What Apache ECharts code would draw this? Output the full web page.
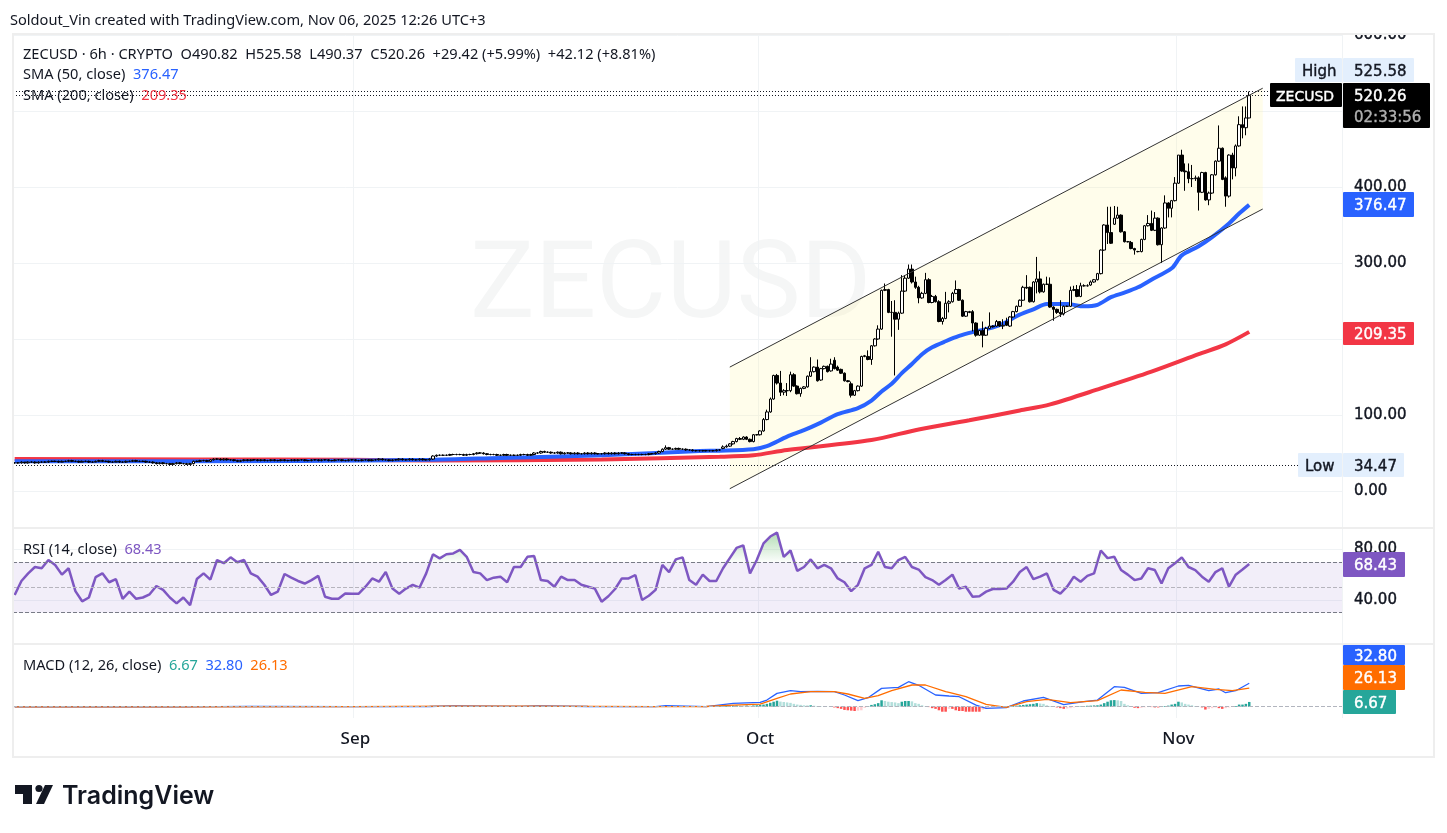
<!DOCTYPE html>
<html>
<head>
<meta charset="utf-8">
<title>ZECUSD</title>
<script src="https://cdn.jsdelivr.net/npm/echarts@6/dist/echarts.min.js"></script>
<style>
html, body { margin: 0; padding: 0; background: #fff; }
#chart { width: 1447px; height: 833px; }
</style>
</head>
<body>
<div id="chart"></div>
<script>
// 6h bars, one row = 10 bars, bar 0 is Aug 6 18:00
var opens = [
37,37,37,38,37,38,38,37,38,38,
38,39,39,39,38,39,39,40,39,39,
38,39,39,38,38,39,40,39,39,38,
38,39,38,38,39,39,40,39,39,39,
38,38,37,36,37,36,36,35,36,37,
36,36,35,36,39,39,40,40,39,41,
42,42,41,42,41,41,40,39,40,41,
40,41,41,40,41,40,40,41,40,40,
41,40,40,41,40,41,41,40,40,41,
41,40,41,41,40,40,41,41,40,40,
41,41,40,40,41,41,40,41,41,42,
41,41,40,41,41,42,41,41,42,41,
41,42,41,41,42,46,47,47,47,47,
48,48,48,48,47,48,48,49,50,50,
49,48,48,48,47,47,48,47,47,47,
47,48,48,47,48,50,50,52,51,51,
50,50,51,49,50,50,49,50,49,49,
50,49,50,49,49,49,50,49,50,49,
50,50,49,48,48,48,48,48,48,49,
49,50,52,55,57,55,55,56,55,55,
54,54,53,53,53,53,53,53,53,54,
56,58,59,62,65,69,68,71,68,65,
74,74,79,94,104,121,152,142,130,132,
132,153,138,128,135,137,151,157,163,146,
161,164,158,172,163,160,155,145,141,126,
132,138,177,177,173,191,200,213,264,265,
235,235,226,234,263,280,292,275,268,254,
260,278,248,256,249,223,227,247,249,260,
265,251,230,236,236,221,205,211,205,214,
217,217,223,217,223,217,229,236,243,251,
268,268,249,275,279,262,272,272,242,239,
235,233,243,243,264,265,256,270,270,271,
275,278,286,317,350,340,351,359,363,341,
328,327,319,315,315,331,349,352,343,359,
324,346,379,372,382,405,442,421,420,411,
411,412,393,419,383,392,416,434,451,412,
388,442,425,454,482,478,490.82
];
var highs = [
38,38,39,38,39,39,39,39,39,39,
40,40,40,40,40,40,41,41,40,40,
40,40,40,39,40,41,41,40,40,39,
40,40,39,40,40,41,41,40,40,40,
39,39,38,38,38,37,37,37,38,38,
37,37,37,40,40,41,41,41,42,43,
43,43,43,43,42,42,41,41,42,42,
42,42,42,42,42,41,42,42,41,42,
42,41,42,42,42,42,42,41,42,42,
42,42,42,42,41,42,42,42,41,42,
42,42,41,42,42,42,42,42,43,43,
42,42,42,42,43,43,42,43,43,42,
43,43,42,43,47,48,48,48,48,49,
49,49,49,49,49,49,50,51,51,51,
50,49,49,49,48,49,49,48,48,48,
49,49,49,49,51,51,53,53,52,52,
51,52,52,51,51,51,51,51,50,51,
51,51,51,50,50,51,51,51,51,51,
51,51,50,49,49,49,49,49,50,50,
51,53,56,60,58,56,57,57,56,56,
55,55,54,54,54,54,54,54,55,55,
60,61,63,66,70,71,72,72,69,75,
75,80,96,107,123,153,154,158,134,142,
157,155,139,136,138,152,176,164,173,162,
165,165,174,176,165,161,156,146,144,133,
139,178,179,185,192,201,218,265,273,266,
250,251,236,284,284,298,298,282,270,262,
287,280,258,258,251,229,262,251,262,277,
266,252,237,237,238,222,212,223,216,235,
218,225,219,226,228,230,237,244,252,270,
284,269,276,308,289,273,282,281,243,240,
251,244,244,269,270,271,274,272,272,277,
279,287,318,351,374,374,375,374,364,342,
329,329,320,316,332,350,363,369,367,360,
347,389,380,383,413,442,449,431,431,429,
415,414,420,420,394,417,435,481,452,414,
443,445,456,493,506,506,525.58
];
var lows = [
36,36,36,36,36,37,36,36,37,37,
37,38,38,37,38,38,38,38,38,37,
38,38,37,37,38,38,38,38,37,37,
38,37,37,37,38,38,38,38,38,37,
37,36,35,35,35,35,35,35,35,35,
35,34.47,35,35,38,38,39,38,38,40,
41,40,40,40,40,39,38,38,39,39,
39,40,39,39,39,39,39,39,39,39,
39,39,39,39,39,40,39,39,39,40,
39,39,40,39,39,39,40,39,39,39,
40,39,39,39,40,39,39,40,40,40,
40,39,39,40,40,40,40,40,40,40,
40,40,40,40,41,45,46,46,46,46,
47,47,47,46,46,47,47,48,49,48,
47,47,47,46,46,46,46,46,46,46,
46,47,46,46,47,49,49,50,50,49,
49,49,48,48,49,48,48,48,48,48,
48,48,48,48,48,48,48,48,48,48,
49,48,47,47,47,47,47,47,47,48,
48,49,51,54,54,54,54,54,54,53,
53,52,52,52,52,52,52,52,52,53,
55,57,58,61,64,67,67,67,64,64,
73,73,78,93,103,120,140,125,126,125,
130,137,127,124,134,136,150,156,144,145,
160,156,157,160,158,154,144,143,123,125,
131,137,176,172,166,190,199,212,263,234,
203,152,212,233,262,279,273,266,247,253,
259,247,247,248,222,219,226,235,248,259,
250,229,229,234,210,203,204,189,204,213,
215,216,216,213,217,216,228,235,242,250,
266,248,248,260,260,261,271,241,224,233,
229,231,242,242,263,255,255,269,269,270,
274,277,285,316,325,325,350,358,340,327,
327,318,311,314,314,330,348,342,342,323,
300,345,360,360,381,404,420,395,405,400,
408,369,392,382,376,391,415,433,409,374,
386,410,414,453,464,468,490.37
];
var closes = [
37,37,38,37,38,38,37,38,38,38,
39,39,39,38,39,39,40,39,39,38,
39,39,38,38,39,40,39,39,38,38,
39,38,38,39,39,40,39,39,39,38,
38,37,36,37,36,36,35,36,37,36,
36,35,36,39,39,40,40,39,41,42,
42,41,42,41,41,40,39,40,41,40,
41,41,40,41,40,40,41,40,40,41,
40,40,41,40,41,41,40,40,41,41,
40,41,41,40,40,41,41,40,40,41,
41,40,40,41,41,40,41,41,42,41,
41,40,41,41,42,41,41,42,41,41,
42,41,41,42,46,47,47,47,47,48,
48,48,48,47,48,48,49,50,50,49,
48,48,48,47,47,48,47,47,47,47,
48,48,47,48,50,50,52,51,51,50,
50,51,49,50,50,49,50,49,49,50,
49,50,49,49,49,50,49,50,49,50,
50,49,48,48,48,48,48,48,49,49,
50,52,55,57,55,55,56,55,55,54,
54,53,53,53,53,53,53,53,54,54,
58,59,62,65,69,68,71,68,65,74,
74,79,94,104,121,152,142,130,132,132,
153,138,128,135,137,151,157,163,145,161,
164,157,167,161,159,155,145,144,126,132,
138,177,178,173,191,200,213,264,265,235,
235,226,234,263,280,292,275,268,254,260,
278,248,256,249,223,227,247,249,260,265,
251,230,236,235,221,205,211,205,214,217,
216,223,217,218,218,229,236,243,251,268,
267,249,275,279,262,272,272,242,239,235,
233,243,243,264,265,256,270,270,270,275,
278,286,317,350,340,326,359,363,341,328,
328,319,317,315,331,349,352,343,359,324,
346,379,372,382,405,442,421,420,411,411,
412,393,419,383,392,416,434,451,410,388,
442,425,454,482,478,490.82,520.26
];

// moving averages as [bar, price]
var sma50Points = [[0,39],[85,39.5],[123,41],[144,43.5],[174,47],[203,52.6],[209,53],[219,55],[223,59],[229,71.5],[234,80],[239,90],[244,101],[250,109],[254,119],[257,131],[260,141],[263,155],[266,167],[269,180],[272,189],[276,197],[280,204],[284,209],[288,213],[293,220],[297,230],[302,239],[306,246],[312,246],[317,243],[321,245],[325,255],[329,261],[333,268],[337,278],[343,293],[346,310],[351,322],[355,334],[360,352],[363,365],[366,376.47]];
var sma200Points = [[0,42],[55,41.5],[100,41],[123,40],[174,41.5],[209,45],[219,47],[229,54],[254,67],[268,81],[283,93],[298,106],[307,114],[322,135],[337,157],[351,180],[359,193],[366,209.35]];

// drawn channel
var channelBars = [212, 370];
var channelUpper = [163, 530];
var channelLower = [3, 371];
var priceLevels = [525.58, 520.26, 34.47];

// RSI, one value every second bar
var rsiValues = [
44,55,61,66,65,71.5,67.6,60,65,47,
39,42,58,61,54,56.5,41,46.6,41,42,
44.5,51,48,42,37.4,42,36,56.5,61,56,
71.5,69,73.6,69.7,71.5,61,58.4,52,44,46.6,
60.5,57.6,55,53,55.7,59,42.6,41,41,45.2,
45,45,50.5,57,54.4,62,49,45,49,52,
49.7,61,76,72.8,76,76.7,79.4,74,62,61,
55.7,57.6,58.4,54,66,66,74,74.6,55.7,55,
50.5,58.4,55.7,55.7,52,50.5,49,38.7,43,48.7,
57,57,59.7,40,43.4,48,67.6,62,72,73.6,
55.7,52,60,55,55,65,73,81,83,61,
71.5,84.6,90,93,74,79,63,66,72,65,
67.6,65,57,54,47,52,65,67.6,78,66,
65,71.5,74,66,64,58,55.7,52,55.7,60,
49,50.5,42.6,43,46.6,48.7,48.7,49,54.4,62,
66,56.5,58.4,61,48,45,50.5,58.4,54.4,59,
61,79,73,74,63.6,60,55.7,57,65,63.6,
53,65,69,73.6,66,63.6,58.4,54.4,62,65,
50.5,60,64,68.43
];

// MACD and signal as [bar, value]
var macdPoints = [[0,-0.3],[30,0.2],[50,-0.3],[70,0.4],[100,0],[123,0.3],[130,1.2],[150,0.4],[155,1.2],[170,0.3],[190,0.2],[193,1.6],[205,0.2],[213,4.7],[221,6],[223,9.3],[226,18.7],[230,22.4],[233,21],[238,21.5],[243,21],[246,16.4],[250,8.4],[253,12.6],[257,25.7],[262,27],[265,35],[268,30],[273,16.4],[277,15],[280,14],[285,2.3],[288,-2.3],[294,-1.4],[299,8],[305,13],[311,3],[317,7],[321,9.3],[326,28],[329,27],[334,18.7],[339,19.6],[345,29],[348,30],[354,22.4],[357,24.8],[359,19.6],[362,22.4],[366,32.8]];
var signalPoints = [[0,-0.2],[50,-0.1],[100,0],[130,0.7],[155,0.8],[190,0.2],[205,0.3],[213,2.3],[221,3.7],[226,11.7],[230,17.8],[236,21],[243,21],[247,17.8],[252,11.7],[256,15.4],[260,22.4],[266,30.4],[270,30.4],[276,21],[277,20],[282,14],[288,3.3],[294,-1],[300,7],[306,10.3],[313,5.6],[321,8.4],[328,23.4],[335,20],[341,18.7],[349,28],[356,24.3],[361,22.4],[366,26.13]];
var histValues = [
0.1,-0.1,-0.2,0.1,0.2,0.1,-0.1,-0.2,-0.1,0.1,
0.2,0.1,0.1,-0.1,-0.2,-0.1,0.1,0.2,0.1,-0.1,
-0.1,0.1,0.1,-0.2,-0.1,0.2,0.1,-0.1,-0.2,-0.1,
0.1,0.1,-0.1,0.1,0.2,0.1,-0.1,0.1,-0.2,-0.2,
-0.3,-0.4,-0.3,-0.2,-0.2,-0.3,-0.2,-0.1,0.1,-0.1,
-0.1,-0.2,0.1,0.5,0.4,0.4,0.3,0.1,0.4,0.4,
0.2,0.1,0.1,-0.1,-0.1,-0.2,-0.3,-0.1,0.1,-0.1,
0.1,0.1,-0.1,0.1,-0.1,-0.1,0.1,-0.1,-0.1,0.1,
-0.1,-0.1,0.1,-0.1,0.1,0.1,-0.1,-0.1,0.1,0.1,
-0.1,0.1,0.1,-0.1,-0.1,0.1,0.1,-0.1,-0.1,0.1,
0.1,-0.1,-0.1,0.1,0.1,-0.1,0.1,0.1,0.2,0.1,
-0.1,-0.1,0.1,0.1,0.2,-0.1,-0.1,0.1,-0.1,-0.1,
0.1,-0.1,-0.1,0.1,0.6,0.7,0.6,0.5,0.3,0.3,
0.2,0.1,0.1,-0.1,0.1,0.1,0.2,0.3,0.2,-0.1,
-0.2,-0.2,-0.1,-0.2,-0.2,0.1,-0.1,-0.1,-0.1,-0.1,
0.1,0.1,-0.1,0.1,0.4,0.3,0.4,0.2,0.1,-0.1,
-0.1,0.1,-0.2,-0.1,-0.1,-0.2,0.1,-0.1,-0.1,0.1,
-0.1,0.1,-0.1,-0.1,-0.1,0.1,-0.1,0.1,-0.1,0.1,
0.1,-0.1,-0.2,-0.2,-0.2,-0.1,-0.1,-0.1,0.1,0.1,
0.2,0.4,0.7,0.9,0.5,0.4,0.5,0.3,0.2,-0.1,
-0.1,-0.2,-0.2,-0.1,-0.1,0.3,0.5,0.4,0.6,0.8,
1,1.2,1.5,1.6,1.8,1.6,1.5,1.7,1.5,1.8,
2,2.5,3,4,5.5,7,8.4,7.2,6.6,6,
5.4,4,3,2.6,2,1.8,2,1.4,1,0.6,
0.4,0.2,-0.4,-1,-2,-3,-4.5,-5,-5.5,-6,
-5.5,-5,-1.5,1,2.5,3.5,5,9,8,7,
6.5,6,5,7,8,8,7.5,5,4,2,
0.5,-0.5,-2,-3,-5,-7,-7,-3,-3,-5,
-6,-6,-7,-7,-7,-7,-7,-4,-3,-1.5,
-0.5,-0.3,0,0.3,0.5,0.6,1,1.5,2,2.5,
3,3.5,4,5,4.5,4,2,1,0.5,-1,
-2,-3,-2.5,-2,-1,0.3,0.6,1,1.3,1.5,
1.8,2,3,5,7,9,9.3,9,8,4,
2,0.5,-1.5,-2,-1.5,-0.8,-0.5,-0.5,-1,-1,
-0.5,1,1.5,3,4,7,6,4,3,2,
1,0.3,-1,-4,-3,-2,-1,-2,-3,-2,
-1,0.3,1,3,3,4,6.67
];

var priceTicks = [0, 100, 200, 300, 400, 500, 600];
var rsiTicks = [40, 80];
var monthNames = ['Sep', 'Oct', 'Nov'];
var monthStarts = ['2025-09-01T00:00', '2025-10-01T00:00', '2025-11-01T00:00'];

// time line reaches past the last bar, into the empty right margin
var categories = [];
for (var b = 0; b < 394; b++) {
    categories.push(new Date(Date.UTC(2025, 7, 6, 18) + b * 6 * 3600 * 1000).toISOString().slice(0, 16));
}
var monthTicks = monthStarts.map(function(d) { return categories.indexOf(d); });

var gridColor = '#f0f3f5';
var textColor = '#131722';
var uiFont = '"Noto Sans", sans-serif';
var scaleFont = '"DejaVu Sans", sans-serif';
var legendFont = '14.6px ' + uiFont;

var myChart = echarts.init(document.getElementById('chart'));

function xAxisFor(index, showLabel) {
    return {
        type: 'category',
        gridIndex: index,
        data: categories,
        axisLine: { show: false },
        axisTick: { show: false, customValues: monthTicks, alignWithLabel: true },
        splitLine: { show: true, lineStyle: { color: gridColor, width: 1 } },
        axisLabel: {
            show: showLabel,
            customValues: monthTicks,
            margin: 13,
            fontSize: 17,
            fontWeight: 500,
            fontFamily: uiFont,
            color: textColor,
            formatter: function(value) {
                return monthNames[monthStarts.indexOf(value)];
            }
        }
    };
}

function yAxisFor(index, min, max, ticks, showLabel) {
    return {
        type: 'value',
        gridIndex: index,
        position: 'right',
        min: min,
        max: max,
        axisLine: { show: false },
        axisTick: { show: false, customValues: ticks },
        splitLine: { show: ticks.length > 0, lineStyle: { color: gridColor, width: 1 } },
        axisLabel: {
            show: showLabel,
            customValues: ticks,
            margin: 12,
            padding: [2, 0, 0, 0],
            fontSize: 15,
            fontFamily: scaleFont,
            color: textColor,
            textBorderColor: textColor,
            textBorderWidth: 0.4,
            formatter: function(v) { return v.toFixed(2); }
        }
    };
}

function pointLine(name, points, xIndex, color, width, z, smooth) {
    return {
        name: name,
        type: 'line',
        xAxisIndex: xIndex,
        yAxisIndex: xIndex,
        data: points,
        showSymbol: false,
        smooth: smooth || false,
        z: z,
        lineStyle: { color: color, width: width }
    };
}

function headerText(x, y, text) {
    return {
        type: 'text',
        x: x,
        y: y + 1,
        z: 60,
        style: { text: text, rich: legendRich, font: legendFont, fill: textColor, verticalAlign: 'middle' }
    };
}

function tag(x, y, w, h, fill, label, color, pad, size) {
    return {
        type: 'group',
        z: 100,
        children: [
            { type: 'rect', z: 100, shape: { x: x, y: y, width: w, height: h, r: 1 }, style: { fill: fill } },
            {
                type: 'text', z: 101, x: x + (pad || 11), y: y + h / 2 + 2,
                style: { text: label, font: (size || 15) + 'px ' + scaleFont, fill: color, stroke: color, lineWidth: 0.4, verticalAlign: 'middle' }
            }
        ]
    };
}

var legendRich = {
    blue: { fill: '#2962ff', font: legendFont },
    red: { fill: '#f23645', font: legendFont },
    purple: { fill: '#7e57c2', font: legendFont },
    teal: { fill: '#26a69a', font: legendFont },
    orange: { fill: '#ff6d00', font: legendFont }
};

var option = {
    animation: false,
    backgroundColor: '#fff',
    grid: [
        { left: 13, width: 1329, top: 34, height: 494 },
        { left: 13, width: 1329, top: 528, height: 116 },
        { left: 13, width: 1329, top: 644, height: 74 }
    ],
    xAxis: [xAxisFor(0, false), xAxisFor(1, false), xAxisFor(2, true)],
    yAxis: [
        yAxisFor(0, -48.7, 601.3, priceTicks, true),
        yAxisFor(1, 5.4, 96.7, rsiTicks, true),
        yAxisFor(2, -15.8, 87.8, [], false)
    ],
    graphic: [
        { type: 'text', x: 470, y: 290, z: 0, style: { text: 'ZECUSD', font: '400 108px Roboto, sans-serif', fill: '#f5f6f6', verticalAlign: 'middle' } },
        { type: 'rect', z: 50, shape: { x: 1343, y: 22, width: 90, height: 12 }, style: { fill: '#fff' } },
        { type: 'rect', z: 55, shape: { x: 13, y: 34, width: 1421, height: 723 }, style: { fill: 'none', stroke: '#eeeeee', lineWidth: 2 } },
        { type: 'line', z: 55, shape: { x1: 13, y1: 528, x2: 1434, y2: 528 }, style: { stroke: '#eeeeee', lineWidth: 2 } },
        { type: 'line', z: 55, shape: { x1: 13, y1: 644, x2: 1434, y2: 644 }, style: { stroke: '#eeeeee', lineWidth: 2 } },
        headerText(10, 20, 'Soldout_Vin created with TradingView.com, Nov 06, 2025 12:26 UTC+3'),
        headerText(23, 54, 'ZECUSD \u00b7 6h \u00b7 CRYPTO  O490.82  H525.58  L490.37  C520.26  +29.42 (+5.99%)  +42.12 (+8.81%)'),
        headerText(23, 74, 'SMA (50, close)  {blue|376.47}'),
        headerText(23, 95, 'SMA (200, close)  {red|209.35}'),
        headerText(23, 549, 'RSI (14, close)  {purple|68.43}'),
        headerText(23, 665, 'MACD (12, 26, close)  {teal|6.67}  {blue|32.80}  {orange|26.13}'),
        tag(1295, 58, 47, 24, '#e3effd', 'High', textColor, 7),
        tag(1343, 58, 71, 24, '#e3effd', '525.58', textColor),
        tag(1270, 83, 72, 24, '#000', 'ZECUSD', '#fff', 6, 14),
        tag(1343, 83, 87, 24, '#000', '520.26', '#fff'),
        tag(1343, 104, 87, 24, '#000', '02:33:56', '#b0b0b0'),
        tag(1343, 192, 71, 25, '#2962ff', '376.47', '#fff'),
        tag(1343, 322, 71, 23, '#f23645', '209.35', '#fff'),
        tag(1298, 453, 44, 24, '#e3effd', 'Low', textColor, 7),
        tag(1343, 453, 61, 24, '#e3effd', '34.47', textColor),
        tag(1343, 552, 62, 25, '#7e57c2', '68.43', '#fff'),
        tag(1343, 645, 62, 20, '#2962ff', '32.80', '#fff'),
        tag(1343, 665, 62, 25, '#ff6d00', '26.13', '#fff'),
        tag(1343, 690, 53, 24, '#26a69a', '6.67', '#fff'),
        // TradingView logo
        { type: 'polygon', z: 60, shape: { points: [[15, 785], [32, 785], [32, 804], [23, 804], [23, 794], [15, 794]] }, style: { fill: '#131722' } },
        { type: 'circle', z: 60, shape: { cx: 39, cy: 788.5, r: 3.6 }, style: { fill: '#131722' } },
        { type: 'polygon', z: 60, shape: { points: [[45, 785], [53, 785], [44, 804], [36, 804]] }, style: { fill: '#131722' } },
        { type: 'text', z: 60, x: 62, y: 796, style: { text: 'TradingView', font: '600 25px Inter, sans-serif', fill: '#131722', verticalAlign: 'middle' } }
    ],
    series: [
        {
            name: 'channel',
            type: 'custom',
            xAxisIndex: 0,
            yAxisIndex: 0,
            z: 1,
            data: [0],
            renderItem: function(params, api) {
                return {
                    type: 'polygon',
                    shape: {
                        points: [
                            api.coord([channelBars[0], channelUpper[0]]),
                            api.coord([channelBars[1], channelUpper[1]]),
                            api.coord([channelBars[1], channelLower[1]]),
                            api.coord([channelBars[0], channelLower[0]])
                        ]
                    },
                    style: { fill: 'rgba(255,245,157,0.2)' }
                };
            }
        },
        pointLine('upper', channelBars.map(function(x, i) { return [x, channelUpper[i]]; }), 0, '#333333', 1, 6),
        pointLine('lower', channelBars.map(function(x, i) { return [x, channelLower[i]]; }), 0, '#333333', 1, 6),
        pointLine('SMA 200', sma200Points, 0, '#f23645', 4, 3, 0.3),
        pointLine('SMA 50', sma50Points, 0, '#2962ff', 4, 3, 0.3),
        {
            name: 'ZECUSD',
            type: 'candlestick',
            xAxisIndex: 0,
            yAxisIndex: 0,
            z: 5,
            barWidth: 3,
            data: closes.map(function(c, i) { return [opens[i], c, lows[i], highs[i]]; }),
            itemStyle: { color: '#fff', color0: '#000', borderColor: '#000', borderColor0: '#000', borderWidth: 1 },
            markLine: {
                silent: true,
                symbol: 'none',
                label: { show: false },
                lineStyle: { color: '#131722', type: [1, 2], width: 1 },
                data: priceLevels.map(function(v) { return { yAxis: v }; })
            }
        },
        {
            name: 'overbought',
            type: 'line',
            xAxisIndex: 1,
            yAxisIndex: 1,
            z: 2,
            showSymbol: false,
            lineStyle: { width: 0 },
            data: rsiValues.map(function(v, k) { return [k * 2, Math.max(v, 70)]; }),
            areaStyle: {
                origin: 70,
                color: new echarts.graphic.LinearGradient(0, 0, 0, 1, [
                    { offset: 0, color: 'rgba(76,175,80,0.6)' },
                    { offset: 1, color: 'rgba(76,175,80,0.03)' }
                ])
            }
        },
        {
            name: 'RSI',
            type: 'line',
            xAxisIndex: 1,
            yAxisIndex: 1,
            z: 3,
            showSymbol: false,
            data: rsiValues.map(function(v, k) { return [k * 2, v]; }),
            lineStyle: { color: '#7e57c2', width: 2.5 },
            markArea: {
                silent: true,
                itemStyle: { color: 'rgba(126,87,194,0.1)' },
                data: [[{ yAxis: 30 }, { yAxis: 70 }]]
            },
            markLine: {
                silent: true,
                symbol: 'none',
                label: { show: false },
                lineStyle: { color: '#787b86', type: 'dashed', width: 1 },
                data: [{ yAxis: 70 }, { yAxis: 30 }, { yAxis: 50, lineStyle: { color: '#b6b4bd', type: 'dashed', width: 1 } }]
            }
        },
        {
            name: 'Histogram',
            type: 'bar',
            xAxisIndex: 2,
            yAxisIndex: 2,
            barWidth: 2.5,
            z: 2,
            data: histValues,
            itemStyle: {
                color: function(p) {
                    var prev = p.dataIndex > 0 ? histValues[p.dataIndex - 1] : 0;
                    if (p.value >= 0) return p.value >= prev ? '#26a69a' : '#b2dfdb';
                    return p.value <= prev ? '#ff5252' : '#ffcdd2';
                }
            },
            markLine: {
                silent: true,
                symbol: 'none',
                label: { show: false },
                lineStyle: { color: '#b2b5be', type: 'dashed', width: 1 },
                data: [{ yAxis: 0 }]
            }
        },
        pointLine('MACD', macdPoints, 2, '#2962ff', 1.3, 3),
        pointLine('Signal', signalPoints, 2, '#ff6d00', 1.3, 4)
    ]
};

myChart.setOption(option);
</script>
</body>
</html>
